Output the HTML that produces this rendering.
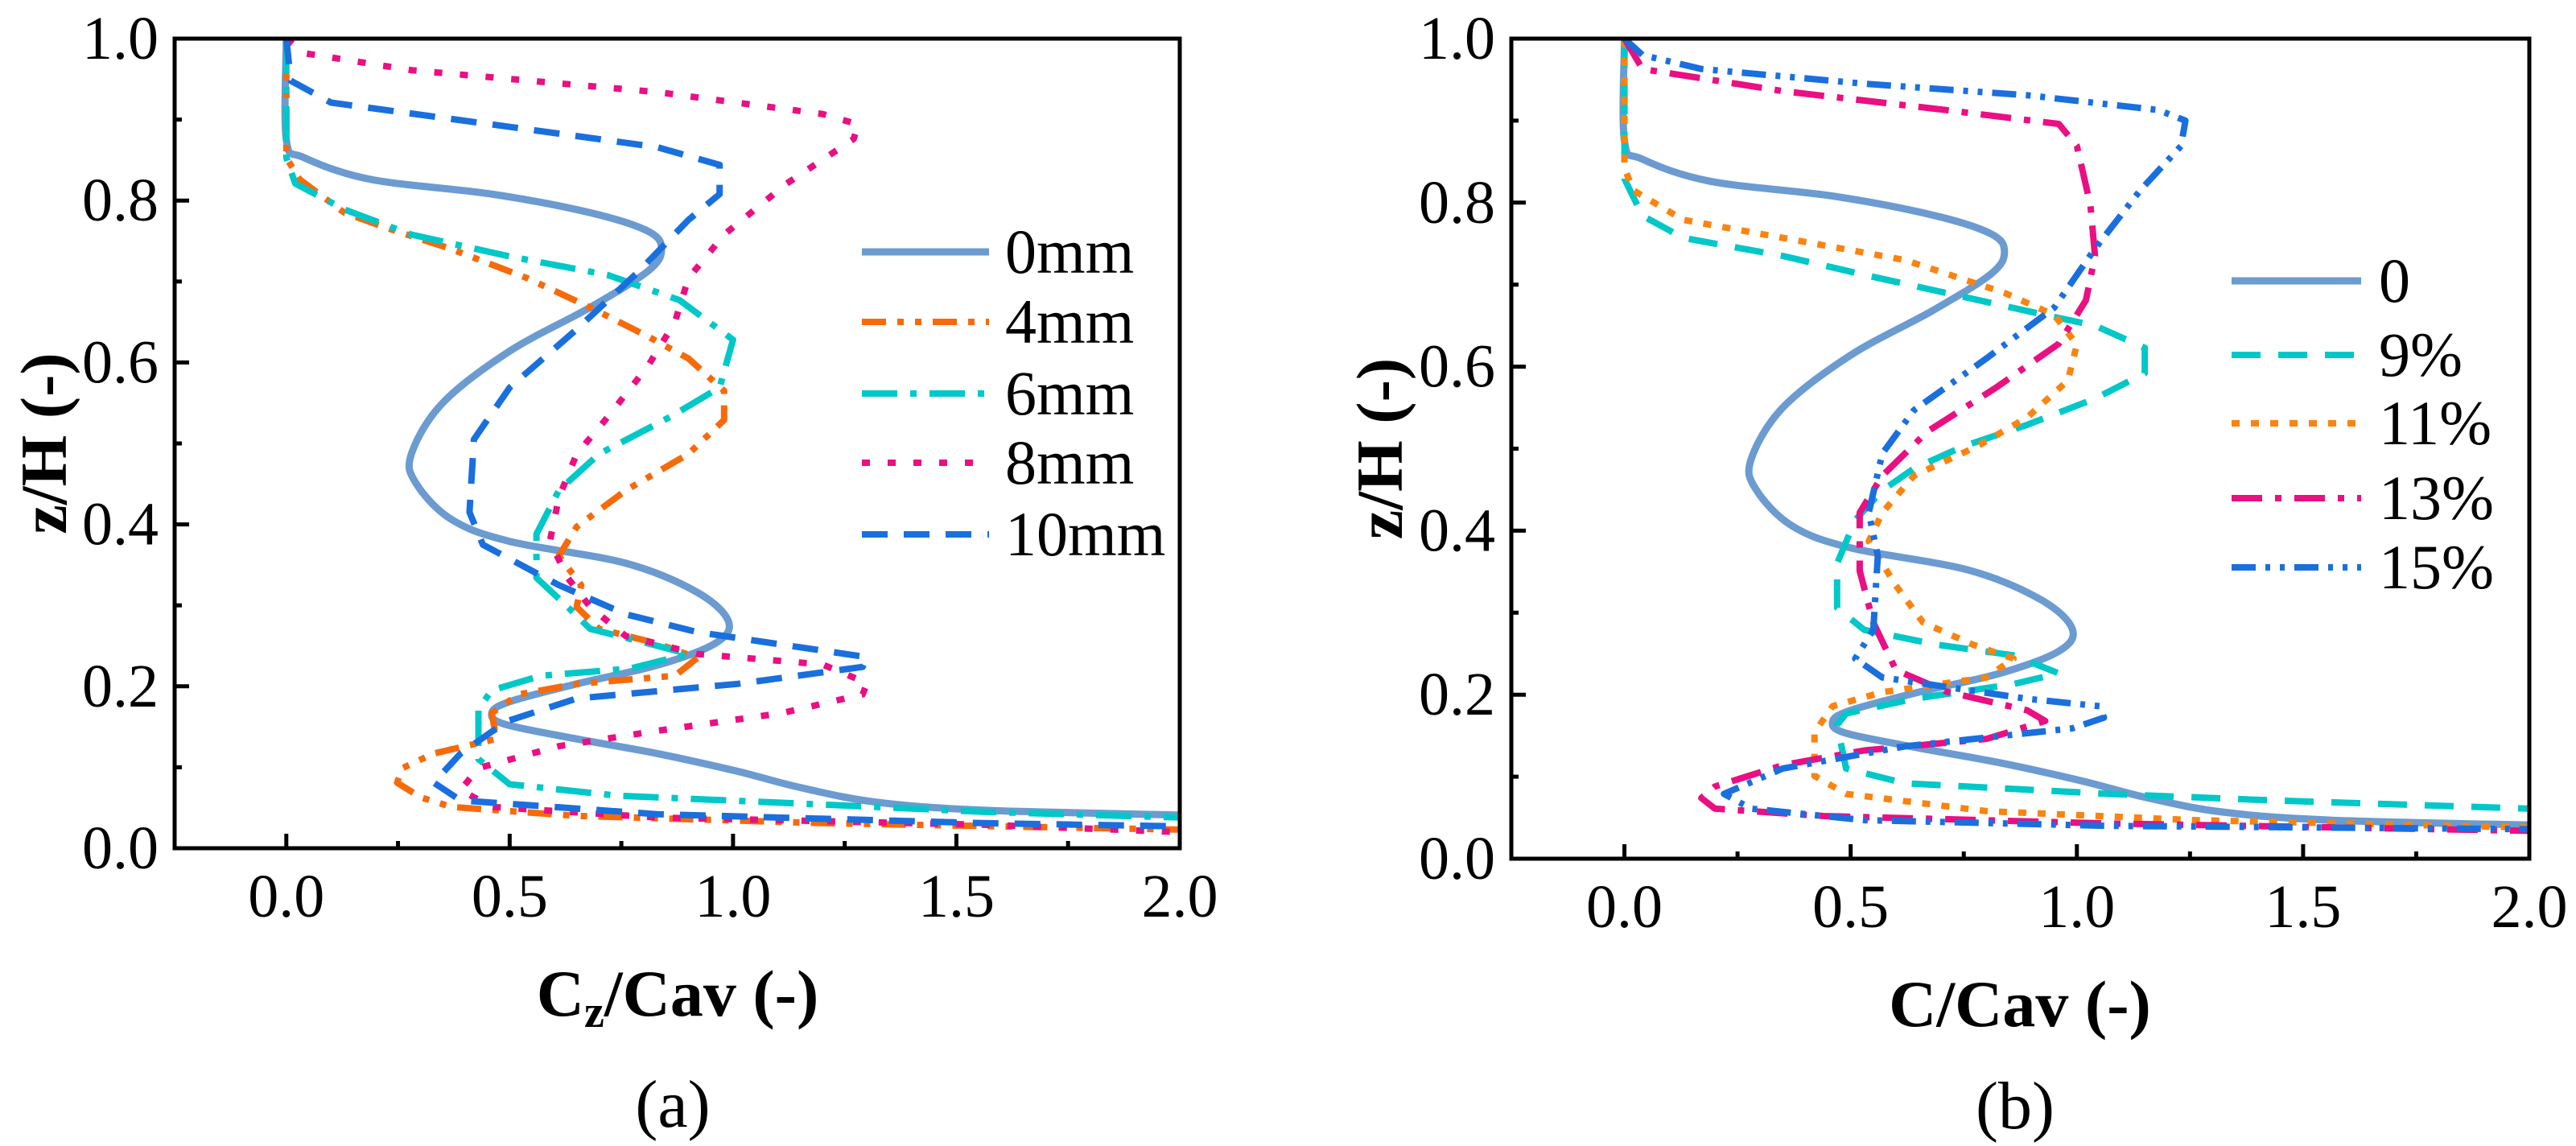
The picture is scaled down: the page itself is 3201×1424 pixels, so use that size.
<!DOCTYPE html>
<html><head><meta charset="utf-8"><style>
html,body{margin:0;padding:0;background:#fff;}
svg{display:block;}
svg text{font-family:"Liberation Serif","DejaVu Serif","Times New Roman",serif;}
</style></head><body>
<svg id="fig" width="3201" height="1424" viewBox="0 0 3201 1424" xmlns="http://www.w3.org/2000/svg">
<defs>
<clipPath id="clipA"><rect x="217" y="48" width="1249" height="1006"/></clipPath>
<clipPath id="clipB"><rect x="1878" y="48" width="1265" height="1019"/></clipPath>
</defs>
<g id="panelA"></g>
<g id="panelB"></g>
</svg>
<script>
// ---- data (x = C/Cav, z = z/H) ----
const xTicks = [0.0, 0.5, 1.0, 1.5, 2.0];
const xTickLabels = ["0.0", "0.5", "1.0", "1.5", "2.0"];
const yTicks = [0.0, 0.2, 0.4, 0.6, 0.8, 1.0];
const yTickLabels = ["0.0", "0.2", "0.4", "0.6", "0.8", "1.0"];

const base_x = [0,0,0.04,0.19,0.46,0.68,0.81,0.84,0.81,0.68,0.5,0.35,0.28,0.29,0.37,0.5,0.76,0.92,0.99,0.96,0.83,0.65,0.5,0.46,0.49,0.65,0.83,1.01,1.15,1.32,1.56,2.0];
const base_z = [1.0,0.875,0.853,0.826,0.808,0.785,0.762,0.740,0.713,0.668,0.614,0.55,0.487,0.451,0.406,0.379,0.352,0.316,0.28,0.253,0.226,0.203,0.181,0.167,0.153,0.135,0.117,0.095,0.075,0.057,0.047,0.041];

const a4_x = [0,0,0.03,0.13,0.22,0.37,0.54,0.68,0.81,0.9,0.98,0.98,0.9,0.76,0.65,0.61,0.66,0.65,0.7,0.83,0.92,0.87,0.65,0.52,0.46,0.47,0.33,0.26,0.248,0.3,0.37,0.65,1.2,2.0];
const a4_z = [1,0.853,0.826,0.785,0.767,0.740,0.704,0.668,0.632,0.605,0.565,0.529,0.487,0.442,0.397,0.361,0.325,0.298,0.271,0.253,0.235,0.213,0.203,0.19,0.167,0.135,0.117,0.099,0.081,0.063,0.051,0.04,0.031,0.023];

const a6_x = [0,0,0.02,0.13,0.28,0.5,0.72,0.88,1.0,0.97,0.86,0.70,0.61,0.56,0.56,0.63,0.68,0.81,0.9,0.77,0.57,0.46,0.43,0.43,0.5,0.74,1.2,1.56,2.0];
const a6_z = [1,0.853,0.821,0.789,0.758,0.731,0.708,0.677,0.628,0.569,0.533,0.487,0.442,0.388,0.334,0.298,0.271,0.253,0.240,0.222,0.213,0.195,0.172,0.11,0.079,0.065,0.054,0.045,0.038];

const a8_x = [0,0.04,0.28,0.83,1.2,1.28,1.27,1.12,0.98,0.9,0.87,0.81,0.72,0.65,0.61,0.59,0.63,0.68,0.76,0.92,1.2,1.3,1.29,1.11,0.83,0.61,0.43,0.39,0.46,0.83,1.56,2.0];
const a8_z = [1,0.982,0.961,0.934,0.907,0.894,0.876,0.821,0.758,0.704,0.650,0.596,0.533,0.487,0.433,0.379,0.334,0.298,0.262,0.240,0.227,0.204,0.19,0.167,0.145,0.126,0.099,0.072,0.051,0.038,0.029,0.02];

const a10_x = [0,0.01,0.1,0.46,0.83,0.97,0.97,0.9,0.79,0.65,0.5,0.42,0.41,0.44,0.61,0.76,0.92,1.3,1.29,1.01,0.65,0.5,0.46,0.39,0.33,0.39,0.83,1.56,2.0];
const a10_z = [1,0.948,0.921,0.894,0.866,0.844,0.808,0.776,0.713,0.641,0.569,0.505,0.415,0.375,0.325,0.289,0.267,0.236,0.224,0.203,0.185,0.158,0.144,0.117,0.081,0.059,0.042,0.031,0.027];

const b9_x = [0,0,0.04,0.13,0.35,0.53,0.71,0.93,1.04,1.15,1.15,1.04,0.89,0.75,0.64,0.57,0.51,0.47,0.47,0.53,0.69,0.86,0.96,0.86,0.64,0.49,0.47,0.49,0.62,1.07,1.44,2.0];
const b9_z = [1,0.829,0.784,0.757,0.735,0.712,0.69,0.663,0.65,0.623,0.592,0.561,0.529,0.503,0.476,0.449,0.413,0.36,0.306,0.279,0.261,0.248,0.226,0.213,0.195,0.177,0.163,0.11,0.092,0.079,0.071,0.061];

const b11_x = [0,0,0.02,0.13,0.35,0.62,0.84,0.95,1.0,0.98,0.89,0.78,0.64,0.57,0.54,0.6,0.66,0.77,0.86,0.8,0.57,0.46,0.42,0.42,0.42,0.49,0.8,1.26,2.0];
const b11_z = [1,0.842,0.815,0.779,0.757,0.730,0.69,0.663,0.627,0.583,0.538,0.503,0.467,0.422,0.387,0.333,0.288,0.261,0.244,0.221,0.203,0.186,0.154,0.128,0.101,0.079,0.058,0.047,0.038];

const b13_x = [0,0.04,0.35,0.71,0.96,1.0,1.03,1.04,1.02,0.96,0.82,0.67,0.57,0.52,0.52,0.55,0.6,0.71,0.89,0.93,0.8,0.53,0.35,0.2,0.17,0.2,0.44,1.07,2.0];
const b13_z = [1,0.963,0.936,0.913,0.896,0.869,0.797,0.735,0.681,0.628,0.574,0.521,0.467,0.422,0.351,0.288,0.23,0.204,0.181,0.168,0.146,0.132,0.114,0.088,0.074,0.061,0.052,0.043,0.034];

const b15_x = [0,0.04,0.17,0.53,0.89,1.18,1.24,1.23,1.14,1.04,0.95,0.8,0.64,0.57,0.54,0.56,0.55,0.51,0.57,0.89,1.05,1.06,0.99,0.62,0.35,0.22,0.28,0.53,1.07,2.0];
const b15_z = [1,0.98,0.963,0.945,0.931,0.913,0.9,0.869,0.815,0.744,0.672,0.61,0.547,0.494,0.422,0.369,0.279,0.244,0.221,0.195,0.186,0.172,0.159,0.137,0.11,0.079,0.061,0.047,0.04,0.036];

const labelsA = ["0mm","4mm","6mm","8mm","10mm"];
const labelsB = ["0","9%","11%","13%","15%"];

// ---- styles ----
const ST = {
  solid:{c:"#6b9bd0",w:9,d:"",smooth:true},
  orangeDD:{c:"#f76a0a",w:8,d:"30 14 8 14 8 14"},
  cyanDD:{c:"#00c8c8",w:8,d:"44 16 8 16"},
  pinkDot:{c:"#ea0f82",w:8,d:"10 22"},
  blueDash:{c:"#1a6fdf",w:8,d:"32 20"},
  cyanDash:{c:"#00c8c8",w:8,d:"36 22"},
  orangeDot:{c:"#f98410",w:8,d:"10 14"},
  pinkDD:{c:"#ea0f82",w:8,d:"38 16 8 16"},
  blueDDD:{c:"#1a6fdf",w:8,d:"30 12 6 12 6 12"}
};

const NS="http://www.w3.org/2000/svg";
function mk(tag, attrs, parent){const e=document.createElementNS(NS,tag);for(const k in attrs)e.setAttribute(k,attrs[k]);parent.appendChild(e);return e;}

function pathFor(pts, smooth){
  if(!smooth) return pts.map((p,k)=>(k?"L":"M")+p[0].toFixed(1)+" "+p[1].toFixed(1)).join(" ");
  let d="M"+pts[0][0].toFixed(1)+" "+pts[0][1].toFixed(1);
  for(let i=0;i<pts.length-1;i++){
    const p0=pts[Math.max(0,i-1)],p1=pts[i],p2=pts[i+1],p3=pts[Math.min(pts.length-1,i+2)];
    const c1=[p1[0]+(p2[0]-p0[0])/6,p1[1]+(p2[1]-p0[1])/6];
    const c2=[p2[0]-(p3[0]-p1[0])/6,p2[1]-(p3[1]-p1[1])/6];
    d+=` C${c1[0].toFixed(1)} ${c1[1].toFixed(1)} ${c2[0].toFixed(1)} ${c2[1].toFixed(1)} ${p2[0].toFixed(1)} ${p2[1].toFixed(1)}`;
  }
  return d;
}

function drawPanel(g, P, series, labels, legendPos, xTitleParts, panelLetter){
  const sx = v => P.x0 + (v - (-0.25)) * (P.x1 - P.x0) / 2.25;
  const sy = v => P.y1 - v * (P.y1 - P.y0);
  const sg = mk("g",{"clip-path":`url(#${P.clip})`},g);
  
  
  series.forEach((s,i)=>{
    const pts = s.x.map((v,k)=>[sx(v),sy(s.z[k])]);
    const p = mk("path",{d:pathFor(pts,s.st.smooth),fill:"none",stroke:s.st.c,"stroke-width":s.st.w,"stroke-dasharray":s.st.d,"stroke-linejoin":"round"},sg);
    
    
  });
  const fr = mk("rect",{x:P.x0,y:P.y0,width:P.x1-P.x0,height:P.y1-P.y0,fill:"none",stroke:"#000","stroke-width":5},g);
  
  
  for(let v=0; v<=2.0001; v+=0.25){
    const major = Math.abs(v*2-Math.round(v*2))<1e-6;
    const t = mk("line",{x1:sx(v),x2:sx(v),y1:P.y1,y2:P.y1-(major?18:9),stroke:"#000","stroke-width":5},g);
    
    
  }
  xTicks.forEach((v,i)=>{
    const t = mk("text",{x:sx(v),y:P.y1+P.tickDy,"text-anchor":"middle","font-size":76},g);
    t.textContent = xTickLabels[i];
    
    
  });
  for(let v=0.1; v<1; v+=0.1){
    const major = Math.abs(v*5-Math.round(v*5))<1e-6;
    const t = mk("line",{x1:P.x0,x2:P.x0+(major?18:9),y1:sy(v),y2:sy(v),stroke:"#000","stroke-width":5},g);
    
    
  }
  yTicks.forEach((v,i)=>{
    const t = mk("text",{x:P.x0-20,y:sy(v)+25,"text-anchor":"end","font-size":76},g);
    t.textContent = yTickLabels[i];
    
    
  });
  const yc = (P.y0+P.y1)/2;
  const yt = mk("text",{x:0,y:0,transform:`translate(${P.yTitleX},${yc}) rotate(-90)`,"text-anchor":"middle","font-size":82,"font-weight":"bold"},g);
  yt.textContent = "z/H (-)";
  
  
  const xt = mk("text",{x:P.xTitleX,y:P.xTitleY,"text-anchor":"middle","font-size":82,"font-weight":"bold"},g);
  
  
  xTitleParts.forEach(pt=>{
    const ts = mk("tspan",pt.sub?{"baseline-shift":"-25%","font-size":56}:{},xt);
    ts.textContent = pt.t;
  });
  const pl = mk("text",{x:P.xTitleX-6,y:P.letterY,"text-anchor":"middle","font-size":84},g);
  pl.textContent = panelLetter;
  
  
  const lg = mk("g",{},g);
  
  
  series.forEach((s,i)=>{
    const y = legendPos.ys[i];
    const e = mk("g",{},lg);
    
    
    mk("line",{x1:legendPos.x1,x2:legendPos.x2,y1:y,y2:y,stroke:s.st.c,"stroke-width":s.st.w,"stroke-dasharray":s.st.d},e);
    const t = mk("text",{x:legendPos.tx,y:y+26,"font-size":78},e);
    t.textContent = labels[i];
  });
}

drawPanel(document.getElementById("panelA"),
  {x0:217,x1:1466,y0:48,y1:1054,clip:"clipA",tickDy:85,yTitleX:82,xTitleX:842,xTitleY:1262,letterY:1400},
  [{x:base_x,z:base_z,st:ST.solid},{x:a4_x,z:a4_z,st:ST.orangeDD},{x:a6_x,z:a6_z,st:ST.cyanDD},{x:a8_x,z:a8_z,st:ST.pinkDot},{x:a10_x,z:a10_z,st:ST.blueDash}],
  labelsA, {x1:1071,x2:1229,tx:1249,ys:[313,400,489,575,664]},
  [{t:"C"},{t:"z",sub:true},{t:"/Cav (-)"}], "(a)");

drawPanel(document.getElementById("panelB"),
  {x0:1878,x1:3143,y0:48,y1:1067,clip:"clipB",tickDy:85,yTitleX:1742,xTitleX:2510,xTitleY:1275,letterY:1402},
  [{x:base_x,z:base_z,st:ST.solid},{x:b9_x,z:b9_z,st:ST.cyanDash},{x:b11_x,z:b11_z,st:ST.orangeDot},{x:b13_x,z:b13_z,st:ST.pinkDD},{x:b15_x,z:b15_z,st:ST.blueDDD}],
  labelsB, {x1:2773,x2:2934,tx:2956,ys:[349,441,526,619,705]},
  [{t:"C/Cav (-)"}], "(b)");
</script>
</body></html>
